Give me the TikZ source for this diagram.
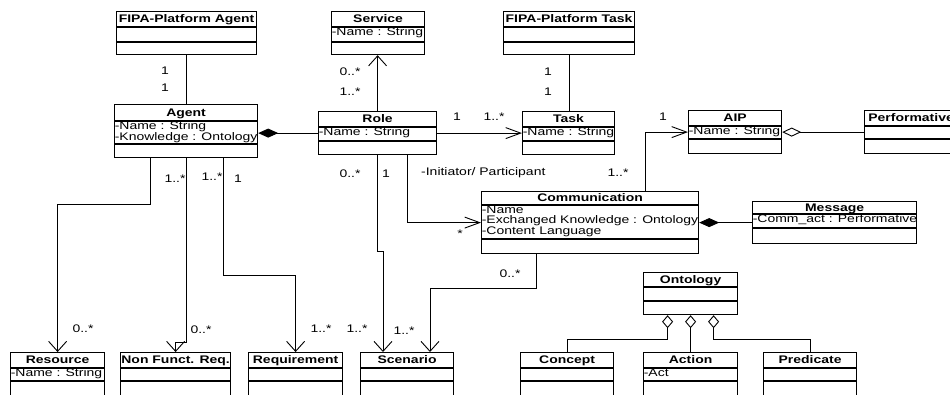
\documentclass[tikz,border=0pt]{standalone}
\usepackage{fontspec}
\setmainfont{Liberation Sans}[FakeStretch=1.27]
\usepackage{tikz}
\usetikzlibrary{arrows.meta}
\tikzstyle{classbox} = [draw, line width=1.2pt, anchor=north west, inner sep=0pt]
\tikzstyle{classline} = [line width=1.2pt]
\tikzstyle{titletext} = [anchor=base, inner sep=0pt, font=\fontsize{11}{11}\selectfont\bfseries]
\tikzstyle{attrtext} = [anchor=north west, align=left, inner xsep=0.6pt, inner ysep=0.5pt, font=\fontsize{11}{10.5}\selectfont]
\tikzstyle{mult} = [anchor=base, inner sep=0pt, font=\fontsize{11}{11}\selectfont]
\tikzstyle{assoc} = [line width=0.9pt]
\tikzstyle{navv} = [assoc, -{Straight Barb[length=10pt,width=18pt]}]
\tikzstyle{navh} = [assoc, -{Straight Barb[length=15pt,width=11pt]}]
\tikzstyle{comp} = [assoc, -{Diamond[length=20pt,width=9pt]}]
\tikzstyle{aggr} = [assoc, -{Diamond[open,length=19pt,width=9pt]}]
\tikzstyle{aggrv} = [assoc, {Diamond[open,length=13pt,width=11pt]}-]

% class box: name, top left, width, height, title row, attribute row, title, attributes
\newcommand{\umlclass}[8]{%
  \node[classbox, minimum width=#3pt, minimum height=#4pt] (#1) at #2 {};
  \draw[classline] (#1.north west) ++(0,#5) coordinate (#1-a) -- ++(#3,0);
  \draw[classline] (#1-a) ++(0,#6) -- ++(#3,0);
  \path (#1.north) ++(0,{#5/2+3.5}) node[titletext] (#1-title) {#7};
  \path (#1-a) node[attrtext] (#1-attr) {#8};
}

\begin{document}
\begin{tikzpicture}[x=1pt,y=-1pt]
    \useasboundingbox (0,0) rectangle (950,394);
    \clip (0,0) rectangle (950,394);
    % classes
    \umlclass{fipaagent}{(116,11)}{140}{43}{16}{15}{FIPA-Platform Agent}{}
    \umlclass{service}{(331,11)}{93}{43}{16}{15}{Service}{-Name : String}
    \umlclass{fipatask}{(503,11)}{131}{43}{16}{15}{FIPA-Platform Task}{}
    \umlclass{agent}{(114,104)}{143}{53}{17}{23}{Agent}{-Name : String\\-Knowledge : Ontology}
    \umlclass{role}{(318,111)}{118}{43}{16}{14}{Role}{-Name : String}
    \umlclass{task}{(522,111)}{92}{43}{16}{14}{Task}{-Name : String}
    \umlclass{aip}{(688,110)}{93}{43}{16}{13}{AIP}{-Name : String}
    \umlclass{perf}{(864,110)}{93}{43}{16}{13}{Performative}{}
    \umlclass{comm}{(481,191)}{217}{62}{14}{34}{Communication}{-Name\\-Exchanged Knowledge : Ontology\\-Content Language}
    \umlclass{message}{(752,201)}{164}{42}{13}{14}{Message}{-Comm\_act : Performative}
    \umlclass{ontology}{(643,272)}{94}{42}{15}{14}{Ontology}{}
    \umlclass{resource}{(10,352)}{94}{60}{16}{13}{Resource}{-Name : String}
    \umlclass{nfr}{(120,352)}{110}{60}{16}{13}{Non Funct. Req.}{}
    \umlclass{req}{(248,352)}{94}{60}{16}{13}{Requirement}{}
    \umlclass{scenario}{(360,352)}{93}{60}{16}{13}{Scenario}{}
    \umlclass{concept}{(520,352)}{93}{60}{16}{13}{Concept}{}
    \umlclass{action}{(643,352)}{94}{60}{16}{13}{Action}{-Act}
    \umlclass{predicate}{(763,352)}{93}{60}{16}{13}{Predicate}{}
    % associations
    \draw[assoc] (fipaagent.south) -- (fipaagent.south |- agent.north);
    \draw[assoc] (fipatask.south) -- (fipatask.south |- task.north);
    \draw[navv] (role.north) -- (role.north |- service.south);
    \draw[comp] (role.west) -- (role.west -| agent.east);
    \draw[navh] (role.east) -- (role.east -| task.west);
    \draw[navh] ([xshift=-54pt]comm.north east) |- (aip.west);
    \draw[aggr] (perf.west) -- (aip.east);
    \draw[comp] (message.west) -- (message.west -| comm.east);
    \draw[navh] ([xshift=-30pt]role.south east) |- (comm.west);
    \draw[navv] (role.south) -- ++(0,96) -| ([xshift=23pt]scenario.north west);
    \draw[navv] ([xshift=55pt]comm.south west) -- ++(0,34) -| ([xshift=70pt]scenario.north west);
    \draw[navv] ([xshift=36pt]agent.south west) -- ++(0,46) -| (resource.north);
    \draw[navv] (agent.south) -- ++(0,184) -| (nfr.north);
    \draw[navv] ([xshift=-35pt]agent.south east) -- ++(0,117) -| (req.north);
    \draw[aggrv] ([xshift=-23pt]ontology.south) -- ++(0,24) -| (concept.north);
    \draw[aggrv] (ontology.south) -- (action.north);
    \draw[aggrv] ([xshift=23pt]ontology.south) -- ++(0,24) -| (predicate.north);
    % multiplicities
    \node[mult] (fa-m1) at (165,74) {1};
    \node[mult] (fa-m2) at (165,91) {1};
    \node[mult] (sv-m1) at (350,75) {0..*};
    \node[mult] (sv-m2) at (350,95) {1..*};
    \node[mult] (ft-m1) at (548,75) {1};
    \node[mult] (ft-m2) at (548,95) {1};
    \node[mult] (tk-m1) at (457,120) {1};
    \node[mult] (tk-m2) at (494,120) {1..*};
    \node[mult] (ap-m1) at (663,120) {1};
    \node[mult] (ap-m2) at (618,176) {1..*};
    \node[mult] (rl-m1) at (350,177) {0..*};
    \node[mult] (rl-m2) at (386,177) {1};
    \node[mult, anchor=base west] (rl-name) at (421,175) {-Initiator/ Participant};
    \node[mult] (cm-m1) at (460,237) {*};
    \node[mult] (cm-m2) at (510,277) {0..*};
    \node[mult] (ag-m1) at (175,182) {1..*};
    \node[mult] (ag-m2) at (212,180) {1..*};
    \node[mult] (ag-m3) at (238,182) {1};
    \node[mult] (rs-m1) at (83,332) {0..*};
    \node[mult] (nf-m1) at (201,333) {0..*};
    \node[mult] (rq-m1) at (321,332) {1..*};
    \node[mult] (sc-m1) at (357,332) {1..*};
    \node[mult] (sc-m2) at (404,334) {1..*};
\end{tikzpicture}
\end{document}
